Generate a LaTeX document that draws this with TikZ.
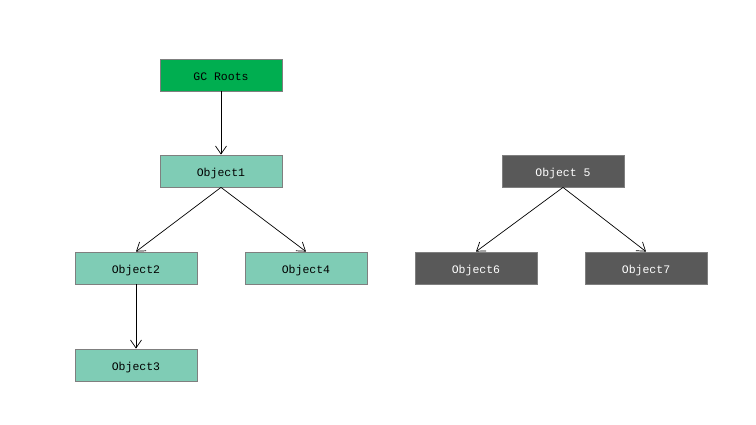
\documentclass[tikz,border=0pt]{standalone}
\usepackage{fontspec}
\setmonofont{Liberation Mono}
\usetikzlibrary{arrows.meta}
\definecolor{rootgreen}{HTML}{00AE50}
\definecolor{livegreen}{HTML}{7FCCB5}
\definecolor{deadgray}{HTML}{595959}
\definecolor{edgegray}{HTML}{7F7F7F}
\tikzset{
  objbox/.style={draw=edgegray, line width=0.8pt, minimum width=122pt, minimum height=32pt, inner sep=0pt, text height=11pt, text depth=0pt, font=\ttfamily\fontsize{11.5}{13}\selectfont},
  live/.style={objbox, fill=livegreen, text=black},
  root/.style={objbox, fill=rootgreen, text=black},
  dead/.style={objbox, fill=deadgray, text=white},
  ref/.style={draw=black, line width=0.7pt, -{Straight Barb[length=8pt,width=11pt,line width=0.7pt]}}
}
\begin{document}
\begin{tikzpicture}[x=1pt,y=-1pt]
\useasboundingbox (0,0) rectangle (756,425);
\node[root] (gc) at (221,75) {GC Roots};
\node[live] (o1) at (221,171) {Object1};
\node[live] (o2) at (136,268) {Object2};
\node[live] (o4) at (306,268) {Object4};
\node[live] (o3) at (136,365) {Object3};
\node[dead] (o5) at (563,171) {Object 5};
\node[dead] (o6) at (476,268) {Object6};
\node[dead] (o7) at (646,268) {Object7};
\draw[ref] (gc.south) -- (o1.north);
\draw[ref] (o1.south) -- (o2.north);
\draw[ref] (o1.south) -- (o4.north);
\draw[ref] (o2.south) -- (o3.north);
\draw[ref] (o5.south) -- (o6.north);
\draw[ref] (o5.south) -- (o7.north);
\end{tikzpicture}
\end{document}
